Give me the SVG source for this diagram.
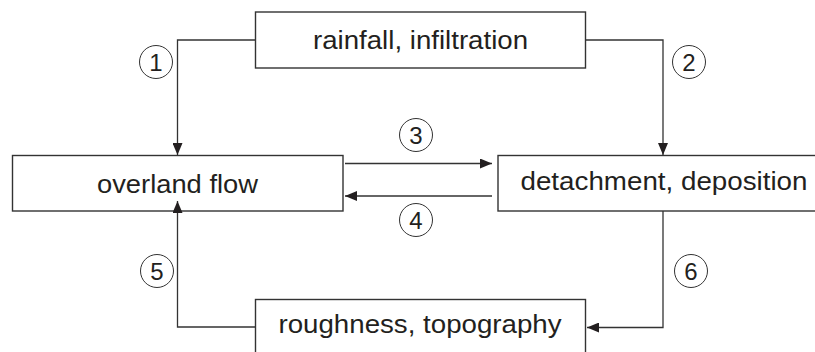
<svg xmlns="http://www.w3.org/2000/svg" width="815" height="352" viewBox="0 0 815 352">
<defs>
<style>
.box{fill:#fff;stroke:#333;stroke-width:1.4}
.lbl{font-family:"Liberation Sans",Arial,sans-serif;font-size:26px;fill:#231f20;text-anchor:middle}
.num{font-family:"Liberation Sans",Arial,sans-serif;font-size:24px;fill:#231f20;text-anchor:middle}
.ring{fill:none;stroke:#333;stroke-width:1}
.con{fill:none;stroke:#333;stroke-width:1.3}
</style>
<marker id="ah" markerUnits="userSpaceOnUse" markerWidth="12" markerHeight="10" refX="12" refY="5" orient="auto">
<path d="M0,0 L12,5 L0,10 z" fill="#231f20"/>
</marker>
</defs>
<rect width="815" height="352" fill="#fff"/>
<g id="rainfall">
<rect class="box" x="255.5" y="12" width="330" height="56"/>
<text class="lbl" x="420.5" y="49" textLength="215" lengthAdjust="spacingAndGlyphs">rainfall, infiltration</text>
</g>
<g id="overland">
<rect class="box" x="12.5" y="155.5" width="330.5" height="55.5"/>
<text class="lbl" x="177.5" y="193" textLength="161" lengthAdjust="spacingAndGlyphs">overland flow</text>
</g>
<g id="detachment">
<rect class="box" x="498" y="155.5" width="320" height="55.5"/>
<text class="lbl" x="664" y="190" textLength="287" lengthAdjust="spacingAndGlyphs">detachment, deposition</text>
</g>
<g id="roughness">
<rect class="box" x="255.5" y="299.5" width="330" height="60"/>
<text class="lbl" x="420" y="333" textLength="283" lengthAdjust="spacingAndGlyphs">roughness, topography</text>
</g>
<g id="connectors">
<polyline class="con" points="255,40 177.5,40 177.5,155" marker-end="url(#ah)"/>
<polyline class="con" points="585.5,40 663,40 663,155" marker-end="url(#ah)"/>
<line class="con" x1="345" y1="163.5" x2="492" y2="163.5" marker-end="url(#ah)"/>
<line class="con" x1="492" y1="196" x2="345" y2="196" marker-end="url(#ah)"/>
<polyline class="con" points="255.5,327 177.5,327 177.5,201" marker-end="url(#ah)"/>
<polyline class="con" points="663,211 663,327.5 587,327.5" marker-end="url(#ah)"/>
</g>
<g id="labels">
<circle class="ring" cx="156" cy="62" r="16.5"/><text class="num" x="156" y="70.5">1</text>
<circle class="ring" cx="689" cy="62" r="16.5"/><text class="num" x="689" y="70.5">2</text>
<circle class="ring" cx="416" cy="135" r="16.5"/><text class="num" x="416" y="143.5">3</text>
<circle class="ring" cx="416" cy="220" r="16.5"/><text class="num" x="416" y="228.5">4</text>
<circle class="ring" cx="157" cy="271" r="16.5"/><text class="num" x="157" y="279.5">5</text>
<circle class="ring" cx="691" cy="271" r="16.5"/><text class="num" x="691" y="279.5">6</text>
</g>
</svg>
